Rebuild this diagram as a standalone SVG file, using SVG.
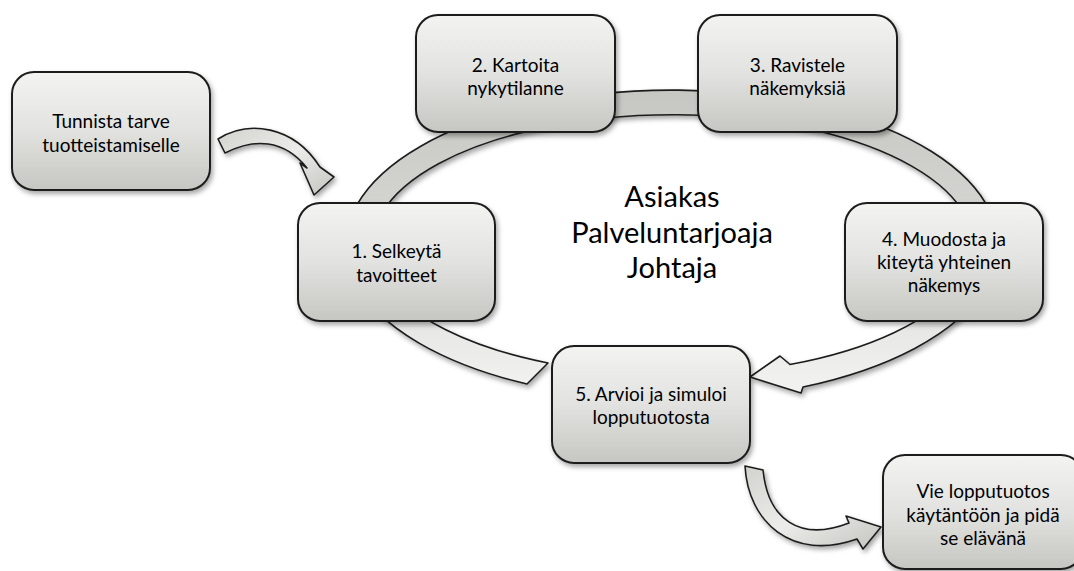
<svg xmlns="http://www.w3.org/2000/svg" width="1074" height="571" viewBox="0 0 1074 571">
  <defs>
    <linearGradient id="boxFill" x1="0" y1="0" x2="0" y2="1">
      <stop offset="0" stop-color="#f3f3f2"/>
      <stop offset="0.5" stop-color="#e2e2e0"/>
      <stop offset="1" stop-color="#c6c6c2"/>
    </linearGradient>
    <linearGradient id="ringFill" gradientUnits="userSpaceOnUse" x1="0" y1="90" x2="0" y2="400">
      <stop offset="0" stop-color="#c6c6c2"/>
      <stop offset="0.45" stop-color="#d6d6d3"/>
      <stop offset="1" stop-color="#f4f4f3"/>
    </linearGradient>
    <linearGradient id="arrowFill" x1="0" y1="0" x2="1" y2="1">
      <stop offset="0" stop-color="#d2d2ce"/>
      <stop offset="0.5" stop-color="#ececea"/>
      <stop offset="1" stop-color="#c4c4c0"/>
    </linearGradient>
    <filter id="shadow" x="-10%" y="-10%" width="125%" height="130%">
      <feDropShadow dx="2" dy="3" stdDeviation="2.5" flood-color="#000" flood-opacity="0.35"/>
    </filter>
  </defs>
  <style>
    .box { fill: url(#boxFill); stroke: #1e1e1e; stroke-width: 2; filter: url(#shadow); }
    .lbl { font-family: Lato, "Open Sans", sans-serif; font-size: 19px; fill: #000; text-anchor: middle; }
    .ctr { font-family: Lato, "Open Sans", sans-serif; font-size: 29px; fill: #000; text-anchor: middle; }
    .band { stroke: #1e1e1e; stroke-width: 1.6; stroke-linejoin: round; filter: url(#shadow); }
  </style>
  <rect width="1074" height="571" fill="#ffffff"/>

  <g id="connectors">
    <path class="band" fill="url(#ringFill)" d="M548,363 L527,384 A326,155 0 1 1 803,387 L801,393 L750,377 L780,356 L790,364.5 A300,130 0 1 0 548,363 Z"/>
    <path class="band" fill="url(#arrowFill)" d="M218,139 C248,120 293,125 320,167 L334,177 L314,195 L300,163 L307,168 C284,139 254,138 225,153 Z"/>
    <path class="band" fill="url(#arrowFill)" d="M745,466 C748,522 792,562 857,539 L863,549 L881,527 L846,516 L849,523 C800,542 768,520 763,470 Z"/>
  </g>

  <g id="node-tunnista">
    <rect class="box" x="12" y="72" width="198" height="118" rx="22"/>
    <text class="lbl" x="111" y="128">Tunnista tarve</text>
    <text class="lbl" x="111" y="152">tuotteistamiselle</text>
  </g>
  <g id="node-2">
    <rect class="box" x="416" y="15" width="199" height="117" rx="22"/>
    <text class="lbl" x="515.5" y="72">2. Kartoita</text>
    <text class="lbl" x="515.5" y="95">nykytilanne</text>
  </g>
  <g id="node-3">
    <rect class="box" x="698" y="15" width="199" height="117" rx="22"/>
    <text class="lbl" x="797.5" y="72">3. Ravistele</text>
    <text class="lbl" x="797.5" y="95">näkemyksiä</text>
  </g>
  <g id="node-1">
    <rect class="box" x="298" y="203" width="197" height="118" rx="22"/>
    <text class="lbl" x="396.5" y="258">1. Selkeytä</text>
    <text class="lbl" x="396.5" y="282">tavoitteet</text>
  </g>
  <g id="node-4">
    <rect class="box" x="845" y="203" width="198" height="118" rx="22"/>
    <text class="lbl" x="944" y="246">4. Muodosta ja</text>
    <text class="lbl" x="944" y="269">kiteytä yhteinen</text>
    <text class="lbl" x="944" y="292">näkemys</text>
  </g>
  <g id="node-5">
    <rect class="box" x="552" y="346" width="198" height="117" rx="22"/>
    <text class="lbl" x="651" y="401">5. Arvioi ja simuloi</text>
    <text class="lbl" x="651" y="424">lopputuotosta</text>
  </g>
  <g id="node-vie">
    <rect class="box" x="883" y="455" width="200" height="114" rx="22"/>
    <text class="lbl" x="983" y="498">Vie lopputuotos</text>
    <text class="lbl" x="983" y="522">käytäntöön ja pidä</text>
    <text class="lbl" x="983" y="545">se elävänä</text>
  </g>
  <g id="center-label">
    <text class="ctr" x="672" y="207">Asiakas</text>
    <text class="ctr" x="672" y="243">Palveluntarjoaja</text>
    <text class="ctr" x="672" y="278">Johtaja</text>
  </g>
</svg>
